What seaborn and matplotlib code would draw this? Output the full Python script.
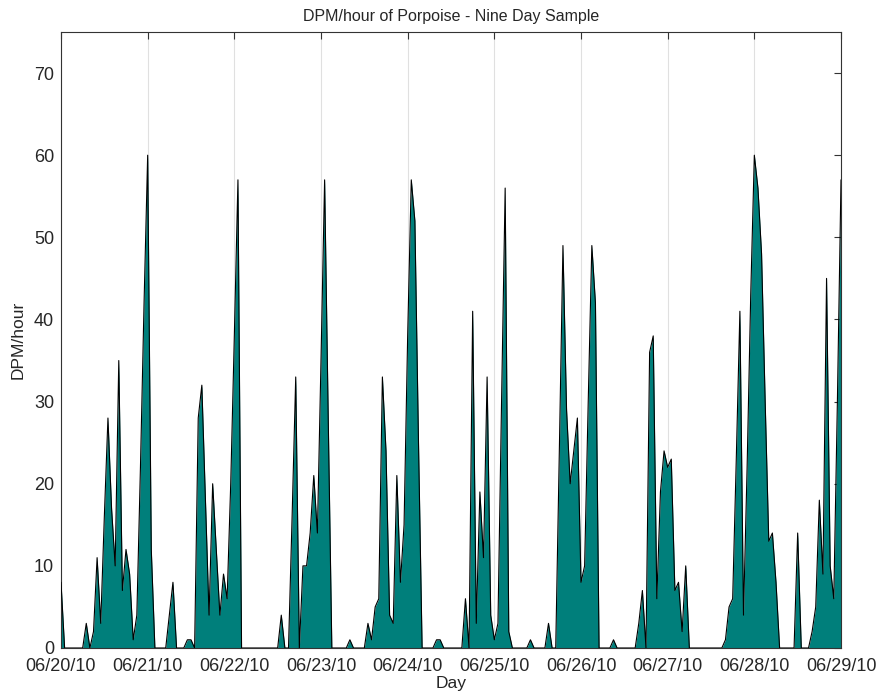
import numpy as np
import pandas as pd
import matplotlib
matplotlib.use("Agg")
import matplotlib.pyplot as plt
import seaborn as sns

# Hourly detection-positive minutes per hour, 06/20/10 00:00 through 06/29/10 00:00
day1 = [8, 0, 0, 0, 0, 0, 0, 3, 0, 2, 11, 3, 16, 28, 17, 10, 35, 7, 12, 9, 1, 4, 22, 42]
day2 = [60, 12, 0, 0, 0, 0, 4, 8, 0, 0, 0, 1, 1, 0, 28, 32, 18, 4, 20, 12, 4, 9, 6, 20]
day3 = [38, 57, 0, 0, 0, 0, 0, 0, 0, 0, 0, 0, 0, 4, 0, 0, 16, 33, 0, 10, 10, 14, 21, 14]
day4 = [35, 57, 28, 0, 0, 0, 0, 0, 1, 0, 0, 0, 0, 3, 1, 5, 6, 33, 24, 4, 3, 21, 8, 15]
day5 = [38, 57, 52, 25, 0, 0, 0, 0, 1, 1, 0, 0, 0, 0, 0, 0, 6, 0, 41, 3, 19, 11, 33, 4]
day6 = [1, 3, 30, 56, 2, 0, 0, 0, 0, 0, 1, 0, 0, 0, 0, 3, 0, 0, 24, 49, 29, 20, 24, 28]
day7 = [8, 10, 30, 49, 42, 0, 0, 0, 0, 1, 0, 0, 0, 0, 0, 0, 3, 7, 0, 36, 38, 6, 19, 24]
day8 = [22, 23, 7, 8, 2, 10, 0, 0, 0, 0, 0, 0, 0, 0, 0, 0, 1, 5, 6, 23, 41, 4, 22, 43]
day9 = [60, 56, 48, 30, 13, 14, 8, 0, 0, 0, 0, 0, 14, 0, 0, 0, 2, 5, 18, 9, 45, 10, 6, 30, 57]

day_labels = ["06/20/10", "06/21/10", "06/22/10", "06/23/10", "06/24/10",
              "06/25/10", "06/26/10", "06/27/10", "06/28/10", "06/29/10"]

dpm = day1 + day2 + day3 + day4 + day5 + day6 + day7 + day8 + day9
df = pd.DataFrame({"hour": np.arange(len(dpm)), "dpm": dpm})

sns.set_theme(style="white")
plt.rcParams["font.family"] = ["Liberation Sans", "DejaVu Sans"]

fig = plt.figure(figsize=(8.77, 6.94), dpi=100)
ax = fig.add_axes([61 / 877, 1 - 648 / 694, 780 / 877, 616 / 694])

teal = "#007f7b"
ax.fill_between(df["hour"], df["dpm"], 0, color=teal, linewidth=0, zorder=2)
sns.lineplot(data=df, x="hour", y="dpm", ax=ax, color="black", linewidth=0.8, zorder=3)

ticks = np.arange(0, 24 * (len(day_labels) - 1) + 1, 24)
ax.set_xticks(ticks)
ax.set_xticklabels(day_labels)
ax.set_xlim(0, ticks[-1])
ax.set_ylim(0, 75)
ax.set_yticks(np.arange(0, 71, 10))

ax.xaxis.grid(True, color="#e0e0e0", linewidth=0.8, zorder=0)
ax.yaxis.grid(False)
ax.set_axisbelow(True)

for s in ax.spines.values():
    s.set_color("#333333")
    s.set_linewidth(0.8)
ax.tick_params(axis="both", direction="in", length=5, width=0.8, color="#333333",
               labelsize=13, top=True, right=True)
ax.tick_params(axis="x", pad=7)
ax.tick_params(axis="y", pad=5)

ax.set_xlabel("Day", fontsize=12.5, labelpad=1)
ax.set_ylabel("DPM/hour", fontsize=12.5, labelpad=6)
ax.set_title("DPM/hour of Porpoise - Nine Day Sample", fontsize=11.5, pad=8)

fig.savefig("out.png", dpi=100)
